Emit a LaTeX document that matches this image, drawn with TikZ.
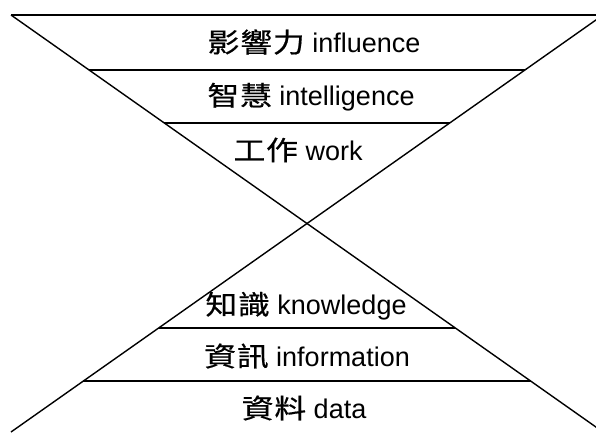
\documentclass[tikz,border=0pt]{standalone}
\usepackage{fontspec}
\setmainfont{Liberation Sans}
\newfontfamily\cjk[FakeStretch=1.18,LetterSpace=3,FakeBold=0.5]{Noto Sans CJK TC}
\usetikzlibrary{calc}
\tikzset{
  edge/.style={line width=1.4pt, black},
  rung/.style={line width=1.6pt, black},
  label/.style={font=\fontsize{27}{27}\selectfont, anchor=center, inner sep=0pt}
}
\begin{document}
\begin{tikzpicture}[x=1pt, y=-1pt]
  \useasboundingbox (0,0) rectangle (596,432);
  \clip (0,0) rectangle (596,432);
  % the two crossing diagonals and the top edge
  \coordinate (TL) at (11,15);
  \coordinate (TR) at (603,15);
  \coordinate (BL) at (11,432);
  \coordinate (BR) at (603,432);
  \draw[edge] (TL) -- (BR);
  \draw[edge] (TR) -- (BL);
  \draw[rung] (TL) -- (TR);
  % rungs inside the upper and lower triangles
  \foreach \yy/\nm in {70/a,123/b,328/c,381/d}{
    \pgfmathsetmacro{\tt}{(\yy-15)/417}
    \coordinate (\nm L) at ($(TL)!\tt!(BR)$);
    \coordinate (\nm R) at ($(TR)!\tt!(BL)$);
  }
  \draw[rung] (aL) -- (aR);
  \draw[rung] (bL) -- (bR);
  \draw[rung] (cR) -- (cL);
  \draw[rung] (dR) -- (dL);
  % level labels
  \node[label] (influence) at (314,42) {{\cjk 影響力}\ influence};
  \node[label] (intelligence) at (311,97) {{\cjk 智慧}\ intelligence};
  \node[label] (work) at (298,150) {{\cjk 工作}\ work};
  \node[label] (knowledge) at (306,306) {{\cjk 知識}\ knowledge};
  \node[label] (information) at (307,356) {{\cjk 資訊}\ information};
  \node[label] (data) at (304,408) {{\cjk 資料}\ data};
\end{tikzpicture}
\end{document}
